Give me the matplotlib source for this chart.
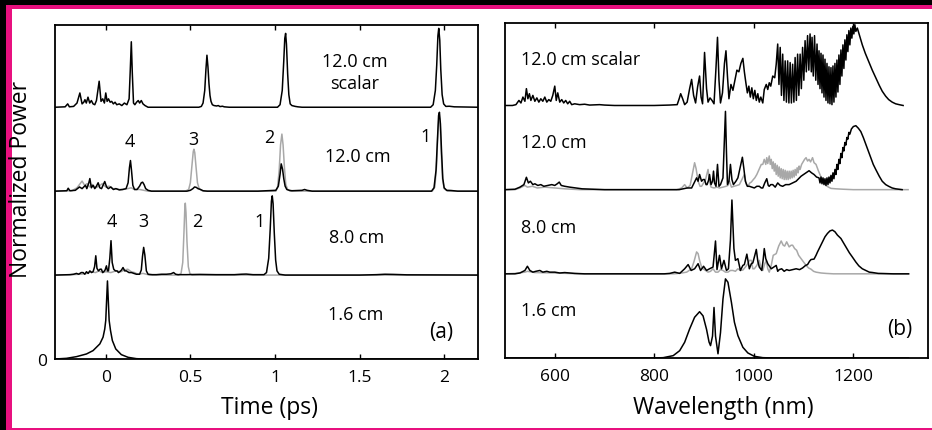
import matplotlib
matplotlib.use('Agg')
import matplotlib.pyplot as plt
from matplotlib.patches import Rectangle

plt.rcParams['font.family'] = ['Open Sans', 'DejaVu Sans']

# ------------------------------------------------------------------ data
time_ticks = [0, 0.5, 1, 1.5, 2]
time_tick_labels = ['0', '0.5', '1', '1.5', '2']
wl_ticks = [600, 800, 1000, 1200]
wl_tick_labels = ['600', '800', '1000', '1200']

# (a) temporal traces: (time [ps], normalized power)
time_scalar_12 = [
    (-0.30, 0.0), (-0.24, 0.005), (-0.225, 0.04), (-0.215, 0.005), (-0.19, 0.01), (-0.17, 0.05),
    (-0.153, 0.17), (-0.14, 0.04), (-0.13, 0.06), (-0.123, 0.09), (-0.115, 0.05), (-0.105, 0.12),
    (-0.095, 0.05), (-0.085, 0.08), (-0.075, 0.04), (-0.065, 0.03), (-0.055, 0.08), (-0.039, 0.31),
    (-0.028, 0.07), (-0.018, 0.10), (-0.008, 0.05), (0.0, 0.17), (0.008, 0.07), (0.016, 0.10),
    (0.026, 0.06), (0.035, 0.07), (0.045, 0.04), (0.055, 0.06), (0.065, 0.03), (0.08, 0.04),
    (0.095, 0.02), (0.11, 0.05), (0.125, 0.03), (0.138, 0.10), (0.145, 0.45), (0.151, 0.78),
    (0.157, 0.40), (0.164, 0.05), (0.172, 0.03), (0.182, 0.06), (0.192, 0.08), (0.20, 0.05),
    (0.21, 0.08), (0.22, 0.04), (0.232, 0.02), (0.25, 0.0), (0.55, 0.0), (0.565, 0.01),
    (0.575, 0.05), (0.585, 0.20), (0.592, 0.45), (0.598, 0.62), (0.604, 0.48), (0.61, 0.28),
    (0.616, 0.14), (0.622, 0.07), (0.63, 0.03), (0.64, 0.02), (0.655, 0.015), (0.665, 0.02),
    (0.675, 0.008), (0.69, 0.012), (0.70, 0.005), (0.73, 0.0), (1.015, 0.0), (1.03, 0.03),
    (1.043, 0.20), (1.052, 0.55), (1.058, 0.82), (1.063, 0.88), (1.068, 0.75), (1.075, 0.40),
    (1.082, 0.15), (1.09, 0.04), (1.10, 0.02), (1.11, 0.015), (1.12, 0.01), (1.135, 0.005),
    (1.16, 0.0), (1.92, 0.0), (1.935, 0.03), (1.948, 0.20), (1.956, 0.50), (1.963, 0.85),
    (1.968, 0.94), (1.974, 0.80), (1.98, 0.45), (1.988, 0.15), (1.997, 0.04), (2.01, 0.01),
    (2.03, 0.012), (2.06, 0.005), (2.2, 0.0)]

time_12_black = [
    (-0.30, 0.0), (-0.23, 0.005), (-0.222, 0.035), (-0.212, 0.005), (-0.18, 0.01), (-0.155, 0.05),
    (-0.14, 0.03), (-0.13, 0.05), (-0.12, 0.07), (-0.112, 0.03), (-0.10, 0.10), (-0.094, 0.15),
    (-0.085, 0.04), (-0.075, 0.07), (-0.065, 0.03), (-0.055, 0.06), (-0.045, 0.10), (-0.035, 0.04),
    (-0.025, 0.03), (-0.006, 0.115), (0.005, 0.05), (0.015, 0.03), (0.03, 0.05), (0.045, 0.02),
    (0.06, 0.03), (0.08, 0.015), (0.10, 0.02), (0.12, 0.03), (0.132, 0.10), (0.14, 0.28),
    (0.146, 0.365), (0.152, 0.25), (0.16, 0.07), (0.17, 0.02), (0.185, 0.02), (0.20, 0.06),
    (0.21, 0.10), (0.218, 0.107), (0.226, 0.08), (0.236, 0.03), (0.25, 0.01), (0.27, 0.0),
    (0.48, 0.0), (0.50, 0.01), (0.515, 0.03), (0.525, 0.05), (0.535, 0.045), (0.545, 0.03),
    (0.56, 0.02), (0.575, 0.005), (0.60, 0.0), (0.90, 0.0), (0.95, 0.005), (1.005, 0.01),
    (1.02, 0.06), (1.03, 0.20), (1.037, 0.325), (1.045, 0.26), (1.052, 0.15), (1.06, 0.06),
    (1.07, 0.02), (1.085, 0.01), (1.10, 0.005), (1.16, 0.01), (1.175, 0.02), (1.19, 0.01),
    (1.22, 0.0), (1.925, 0.0), (1.94, 0.04), (1.952, 0.25), (1.96, 0.60), (1.967, 0.90),
    (1.972, 0.94), (1.978, 0.80), (1.985, 0.45), (1.992, 0.15), (2.0, 0.04), (2.015, 0.01),
    (2.04, 0.008), (2.08, 0.0), (2.2, 0.0)]

time_12_gray = [
    (-0.30, 0.0), (-0.20, 0.005), (-0.17, 0.04), (-0.155, 0.08), (-0.14, 0.12), (-0.125, 0.07),
    (-0.11, 0.09), (-0.095, 0.05), (-0.08, 0.08), (-0.06, 0.04), (-0.04, 0.06), (-0.02, 0.09),
    (0.0, 0.05), (0.02, 0.06), (0.04, 0.03), (0.06, 0.03), (0.08, 0.02), (0.10, 0.02),
    (0.13, 0.03), (0.15, 0.04), (0.17, 0.02), (0.20, 0.02), (0.25, 0.0), (0.47, 0.0),
    (0.49, 0.02), (0.50, 0.10), (0.51, 0.32), (0.517, 0.47), (0.521, 0.50), (0.526, 0.46),
    (0.533, 0.30), (0.542, 0.10), (0.552, 0.03), (0.565, 0.01), (0.58, 0.0), (1.005, 0.0),
    (1.015, 0.04), (1.025, 0.25), (1.033, 0.55), (1.041, 0.68), (1.048, 0.55), (1.056, 0.28),
    (1.064, 0.08), (1.075, 0.02), (1.09, 0.0), (1.93, 0.0), (1.945, 0.05), (1.955, 0.30),
    (1.963, 0.70), (1.97, 0.90), (1.976, 0.82), (1.983, 0.45), (1.99, 0.15), (2.0, 0.03),
    (2.02, 0.0), (2.2, 0.0)]

time_8_black = [
    (-0.30, 0.0), (-0.212, 0.005), (-0.19, 0.01), (-0.173, 0.02), (-0.16, 0.01), (-0.145, 0.03),
    (-0.134, 0.03), (-0.124, 0.01), (-0.114, 0.04), (-0.104, 0.02), (-0.094, 0.05), (-0.084, 0.03),
    (-0.075, 0.04), (-0.066, 0.10), (-0.059, 0.23), (-0.052, 0.08), (-0.043, 0.05), (-0.034, 0.07),
    (-0.026, 0.07), (-0.018, 0.03), (-0.012, 0.04), (-0.004, 0.06), (0.004, 0.11), (0.010, 0.05),
    (0.016, 0.05), (0.024, 0.20), (0.031, 0.41), (0.038, 0.15), (0.047, 0.07), (0.057, 0.05),
    (0.067, 0.05), (0.075, 0.03), (0.083, 0.04), (0.093, 0.06), (0.102, 0.09), (0.112, 0.05),
    (0.122, 0.05), (0.137, 0.03), (0.152, 0.03), (0.166, 0.02), (0.181, 0.01), (0.20, 0.01),
    (0.21, 0.06), (0.217, 0.22), (0.224, 0.33), (0.231, 0.24), (0.24, 0.05), (0.25, 0.01),
    (0.275, 0.005), (0.299, 0.005), (0.33, 0.01), (0.358, 0.01), (0.385, 0.015), (0.401, 0.03),
    (0.413, 0.01), (0.427, 0.005), (0.476, 0.005), (0.555, 0.008), (0.65, 0.005), (0.76, 0.005),
    (0.80, 0.01), (0.83, 0.012), (0.87, 0.005), (0.935, 0.005), (0.95, 0.03), (0.963, 0.20),
    (0.972, 0.55), (0.979, 0.88), (0.984, 0.944), (0.989, 0.85), (0.996, 0.50), (1.004, 0.18),
    (1.012, 0.05), (1.025, 0.01), (1.06, 0.0), (1.50, 0.0), (1.60, 0.005), (1.65, 0.01),
    (1.70, 0.008), (1.78, 0.003), (2.2, 0.0)]

time_8_gray = [
    (-0.30, 0.0), (-0.20, 0.005), (-0.15, 0.01), (-0.11, 0.02), (-0.09, 0.04), (-0.06, 0.03),
    (-0.04, 0.05), (-0.02, 0.03), (0.0, 0.04), (0.03, 0.03), (0.06, 0.05), (0.09, 0.04),
    (0.11, 0.06), (0.13, 0.07), (0.15, 0.04), (0.17, 0.03), (0.19, 0.01), (0.22, 0.02),
    (0.26, 0.0), (0.43, 0.0), (0.445, 0.02), (0.455, 0.15), (0.462, 0.50), (0.467, 0.78),
    (0.47, 0.857), (0.474, 0.75), (0.48, 0.40), (0.488, 0.10), (0.497, 0.02), (0.51, 0.0),
    (2.2, 0.0)]

time_1p6 = [
    (-0.30, 0.0), (-0.232, 0.008), (-0.173, 0.028), (-0.114, 0.06), (-0.075, 0.10), (-0.035, 0.18),
    (-0.016, 0.26), (-0.006, 0.357), (0.0, 0.46), (0.004, 0.65), (0.010, 0.93), (0.016, 0.65),
    (0.020, 0.46), (0.028, 0.34), (0.039, 0.22), (0.059, 0.12), (0.092, 0.052), (0.132, 0.02),
    (0.181, 0.004), (0.22, 0.0), (2.2, 0.0)]

# (b) spectra: (wavelength [nm], normalized power)
spec_scalar_12 = [
    (500, 0.0), (515, 0.0), (522, 0.01), (528, 0.06), (532, 0.03), (536, 0.10), (540, 0.05),
    (543, 0.20), (546, 0.08), (549, 0.14), (552, 0.06), (556, 0.12), (560, 0.05), (564, 0.09),
    (568, 0.04), (572, 0.08), (576, 0.05), (580, 0.10), (584, 0.04), (588, 0.07), (592, 0.05),
    (596, 0.12), (600, 0.23), (603, 0.06), (606, 0.15), (610, 0.04), (614, 0.07), (618, 0.03),
    (622, 0.06), (626, 0.02), (630, 0.05), (634, 0.01), (640, 0.02), (650, 0.01), (660, 0.015),
    (670, 0.005), (690, 0.01), (700, 0.005), (720, 0.0), (800, 0.0), (830, 0.005), (846, 0.01),
    (850, 0.08), (853, 0.14), (857, 0.08), (861, 0.01), (866, 0.04), (871, 0.20), (875, 0.31),
    (879, 0.12), (883, 0.03), (887, 0.22), (891, 0.35), (894, 0.10), (897, 0.02), (901, 0.63),
    (905, 0.20), (908, 0.04), (912, 0.09), (916, 0.06), (920, 0.02), (924, 0.45), (927, 0.81),
    (930, 0.30), (933, 0.03), (937, 0.15), (941, 0.50), (944, 0.65), (947, 0.35), (950, 0.08),
    (954, 0.25), (958, 0.18), (962, 0.30), (966, 0.42), (970, 0.40), (974, 0.50), (978, 0.56),
    (981, 0.40), (984, 0.27), (987, 0.15), (990, 0.23), (993, 0.10), (996, 0.21), (999, 0.08),
    (1002, 0.18), (1005, 0.06), (1008, 0.14), (1011, 0.04), (1014, 0.10), (1018, 0.03),
    (1021, 0.19), (1025, 0.25), (1028, 0.19), (1031, 0.27), (1034, 0.23), (1038, 0.35),
    (1042, 0.33), (1045, 0.49), (1048, 0.73), (1050.5, 0.25), (1053, 0.69), (1055.5, 0.12),
    (1058, 0.61), (1060.5, 0.06), (1063, 0.53), (1065.5, 0.04), (1068, 0.53), (1070.5, 0.03),
    (1073, 0.51), (1075.5, 0.03), (1078, 0.49), (1080.5, 0.04), (1083, 0.57), (1085.5, 0.06),
    (1088, 0.61), (1090.5, 0.12), (1093, 0.61), (1095.5, 0.20), (1098, 0.69), (1100.5, 0.30),
    (1103, 0.77), (1105.5, 0.40), (1108, 0.83), (1110.5, 0.42), (1113, 0.85), (1115.5, 0.40),
    (1117, 0.81), (1119.5, 0.35), (1122, 0.83), (1124.5, 0.30), (1127, 0.73), (1129, 0.25),
    (1131, 0.65), (1133, 0.20), (1135, 0.62), (1137, 0.15), (1139, 0.60), (1141, 0.10),
    (1143, 0.55), (1145, 0.06), (1147, 0.50), (1149, 0.03), (1151, 0.46), (1153, 0.02),
    (1155, 0.45), (1157, 0.01), (1159, 0.47), (1161, 0.04), (1163, 0.50), (1165, 0.10),
    (1167, 0.54), (1169, 0.16), (1171, 0.60), (1173, 0.25), (1175, 0.66), (1177, 0.35),
    (1179, 0.72), (1181, 0.44), (1183, 0.78), (1185, 0.54), (1187, 0.84), (1189, 0.64),
    (1191, 0.89), (1193, 0.72), (1195, 0.92), (1197, 0.80), (1199, 0.94), (1201, 0.85),
    (1203, 0.96), (1205, 0.88), (1208, 0.92), (1211, 0.86), (1214, 0.80), (1218, 0.72),
    (1224, 0.62), (1231, 0.52), (1238, 0.42), (1245, 0.33), (1252, 0.24), (1258, 0.17),
    (1265, 0.11), (1271, 0.07), (1278, 0.04), (1285, 0.02), (1292, 0.01), (1300, 0.0)]

spec_12_black = [
    (500, 0.0), (520, 0.005), (530, 0.03), (538, 0.06), (543, 0.147), (547, 0.08), (551, 0.10),
    (556, 0.06), (560, 0.07), (566, 0.05), (572, 0.06), (578, 0.04), (586, 0.05), (594, 0.06),
    (600, 0.05), (605, 0.07), (609, 0.09), (613, 0.05), (620, 0.04), (630, 0.03), (643, 0.02),
    (655, 0.01), (675, 0.005), (700, 0.0), (850, 0.0), (858, 0.01), (866, 0.02), (875, 0.02),
    (880, 0.08), (885, 0.14), (888, 0.10), (891, 0.18), (895, 0.10), (898, 0.12), (901, 0.12),
    (904, 0.06), (906, 0.06), (909, 0.11), (911, 0.18), (914, 0.06), (917, 0.10), (919, 0.22),
    (921, 0.08), (924, 0.04), (927, 0.30), (930, 0.04), (933, 0.06), (938, 0.14), (941, 0.60),
    (943, 0.93), (945, 0.45), (947, 0.06), (950, 0.10), (953, 0.30), (956, 0.12), (959, 0.06),
    (964, 0.10), (968, 0.14), (972, 0.25), (977, 0.385), (980, 0.25), (983, 0.10), (987, 0.04),
    (991, 0.04), (996, 0.03), (1001, 0.02), (1006, 0.04), (1011, 0.04), (1015, 0.02),
    (1018, 0.02), (1022, 0.08), (1026, 0.13), (1029, 0.05), (1031, 0.04), (1034, 0.06),
    (1038, 0.06), (1043, 0.03), (1048, 0.08), (1053, 0.05), (1058, 0.04), (1064, 0.06),
    (1071, 0.06), (1078, 0.08), (1085, 0.10), (1090, 0.13), (1095, 0.16), (1100, 0.18),
    (1105, 0.20), (1111, 0.225), (1116, 0.20), (1121, 0.18), (1126, 0.15), (1131, 0.14),
    (1133, 0.08), (1135, 0.15), (1137, 0.07), (1139, 0.14), (1141, 0.06), (1143, 0.13),
    (1145, 0.05), (1147, 0.14), (1149, 0.06), (1151, 0.15), (1153, 0.08), (1155, 0.17),
    (1157, 0.10), (1159, 0.20), (1161, 0.13), (1163, 0.24), (1165, 0.18), (1167, 0.30),
    (1169, 0.24), (1171, 0.36), (1173, 0.31), (1175, 0.43), (1177, 0.38), (1179, 0.50),
    (1181, 0.46), (1183, 0.56), (1185, 0.53), (1187, 0.62), (1189, 0.60), (1191, 0.68),
    (1193, 0.66), (1196, 0.72), (1200, 0.75), (1205, 0.76), (1210, 0.73), (1215, 0.69),
    (1220, 0.62), (1225, 0.54), (1230, 0.46), (1235, 0.38), (1240, 0.30), (1245, 0.24),
    (1252, 0.16), (1258, 0.10), (1265, 0.06), (1271, 0.04), (1278, 0.02), (1285, 0.01),
    (1298, 0.0)]

spec_12_gray = [
    (500, 0.0), (520, 0.0), (530, 0.02), (540, 0.05), (545, 0.03), (555, 0.04), (565, 0.02),
    (580, 0.03), (600, 0.02), (620, 0.01), (650, 0.0), (845, 0.0), (855, 0.02), (861, 0.06),
    (866, 0.02), (872, 0.05), (877, 0.20), (881, 0.32), (884, 0.25), (888, 0.10), (892, 0.04),
    (895, 0.04), (899, 0.08), (903, 0.12), (908, 0.24), (911, 0.10), (914, 0.03), (920, 0.02),
    (926, 0.03), (931, 0.02), (938, 0.03), (944, 0.04), (948, 0.05), (951, 0.10), (955, 0.03),
    (960, 0.04), (966, 0.05), (971, 0.06), (976, 0.12), (981, 0.18), (985, 0.06), (988, 0.04),
    (992, 0.08), (995, 0.09), (999, 0.12), (1002, 0.14), (1006, 0.18), (1009, 0.22),
    (1012, 0.26), (1015, 0.30), (1018, 0.30), (1021, 0.36), (1024, 0.30), (1026, 0.38),
    (1028, 0.31), (1031, 0.40), (1033, 0.30), (1035, 0.36), (1037, 0.25), (1039, 0.33),
    (1041, 0.22), (1043, 0.31), (1045, 0.18), (1047, 0.29), (1049, 0.16), (1051, 0.27),
    (1053, 0.14), (1055, 0.25), (1057, 0.13), (1059, 0.24), (1061, 0.12), (1063, 0.23),
    (1065, 0.12), (1067, 0.22), (1069, 0.12), (1071, 0.22), (1073, 0.13), (1075, 0.22),
    (1077, 0.14), (1079, 0.23), (1081, 0.15), (1083, 0.24), (1085, 0.17), (1087, 0.26),
    (1089, 0.20), (1091, 0.28), (1093, 0.24), (1096, 0.30), (1099, 0.33), (1102, 0.36),
    (1105, 0.38), (1108, 0.34), (1111, 0.36), (1114, 0.33), (1118, 0.38), (1121, 0.32),
    (1125, 0.30), (1130, 0.22), (1135, 0.15), (1140, 0.09), (1145, 0.05), (1150, 0.03),
    (1155, 0.015), (1165, 0.01), (1180, 0.005), (1200, 0.0), (1310, 0.0)]

spec_8_black = [
    (500, 0.0), (520, 0.0), (530, 0.01), (540, 0.04), (545, 0.09), (550, 0.04), (556, 0.02),
    (562, 0.03), (570, 0.04), (576, 0.02), (584, 0.03), (590, 0.02), (600, 0.02), (610, 0.01),
    (620, 0.015), (640, 0.005), (660, 0.0), (820, 0.0), (831, 0.005), (841, 0.02), (851, 0.005),
    (861, 0.06), (868, 0.11), (874, 0.04), (881, 0.06), (888, 0.12), (893, 0.04), (899, 0.09),
    (905, 0.04), (911, 0.06), (918, 0.08), (920, 0.20), (923, 0.39), (926, 0.05), (931, 0.22),
    (935, 0.06), (940, 0.16), (945, 0.04), (949, 0.06), (953, 0.40), (956, 0.877), (960, 0.30),
    (963, 0.16), (968, 0.18), (973, 0.04), (978, 0.10), (981, 0.11), (986, 0.234), (991, 0.06),
    (995, 0.12), (998, 0.13), (1002, 0.22), (1005, 0.29), (1008, 0.15), (1011, 0.08),
    (1016, 0.04), (1019, 0.18), (1021, 0.30), (1024, 0.18), (1028, 0.12), (1035, 0.06),
    (1040, 0.08), (1045, 0.10), (1048, 0.03), (1051, 0.05), (1056, 0.06), (1061, 0.03),
    (1066, 0.05), (1071, 0.04), (1078, 0.05), (1085, 0.06), (1092, 0.05), (1098, 0.07),
    (1104, 0.10), (1108, 0.11), (1112, 0.15), (1115, 0.17), (1121, 0.175), (1125, 0.22),
    (1128, 0.26), (1133, 0.32), (1138, 0.38), (1143, 0.44), (1148, 0.48), (1153, 0.51),
    (1158, 0.52), (1163, 0.50), (1168, 0.46), (1175, 0.42), (1180, 0.37), (1185, 0.32),
    (1192, 0.25), (1198, 0.20), (1205, 0.14), (1211, 0.095), (1218, 0.06), (1225, 0.04),
    (1232, 0.02), (1238, 0.016), (1250, 0.005), (1258, 0.004), (1280, 0.0), (1311, 0.0)]

spec_8_gray = [
    (500, 0.0), (520, 0.005), (540, 0.02), (545, 0.03), (560, 0.015), (600, 0.01), (650, 0.0),
    (840, 0.0), (855, 0.01), (865, 0.02), (875, 0.06), (880, 0.15), (885, 0.26), (888, 0.24),
    (891, 0.16), (895, 0.08), (898, 0.06), (903, 0.04), (908, 0.02), (913, 0.03), (918, 0.06),
    (923, 0.02), (928, 0.02), (933, 0.05), (938, 0.04), (943, 0.02), (948, 0.02), (953, 0.04),
    (958, 0.04), (963, 0.03), (968, 0.06), (973, 0.04), (978, 0.045), (983, 0.08), (988, 0.12),
    (991, 0.16), (995, 0.16), (998, 0.06), (1001, 0.06), (1006, 0.10), (1011, 0.16),
    (1014, 0.08), (1018, 0.04), (1022, 0.12), (1025, 0.16), (1028, 0.06), (1031, 0.02),
    (1035, 0.10), (1039, 0.22), (1045, 0.24), (1050, 0.33), (1055, 0.39), (1059, 0.34),
    (1062, 0.33), (1066, 0.38), (1071, 0.32), (1075, 0.34), (1078, 0.34), (1082, 0.30),
    (1086, 0.28), (1090, 0.22), (1095, 0.18), (1100, 0.14), (1105, 0.10), (1110, 0.07),
    (1115, 0.055), (1120, 0.03), (1125, 0.02), (1135, 0.01), (1145, 0.005), (1160, 0.0),
    (1311, 0.0)]

spec_1p6 = [
    (500, 0.0), (800, 0.0), (818, 0.004), (838, 0.028), (851, 0.087), (861, 0.187), (871, 0.345),
    (881, 0.484), (891, 0.55), (898, 0.50), (905, 0.34), (910, 0.19), (913, 0.147), (917, 0.26),
    (920, 0.60), (923, 0.26), (928, 0.05), (933, 0.30), (938, 0.70), (943, 0.94), (948, 0.90),
    (955, 0.66), (961, 0.425), (968, 0.266), (978, 0.127), (988, 0.06), (1001, 0.02),
    (1018, 0.004), (1040, 0.0), (1311, 0.0)]

trace_names = ['1.6 cm', '8.0 cm', '12.0 cm', '12.0 cm scalar']

# ------------------------------------------------------------------ figure
W, H = 932, 431
fig = plt.figure(figsize=(W / 100, H / 100), dpi=100)
fig.patch.set_facecolor('black')
MAG = '#e8107f'
fig.patches.append(Rectangle((6 / W, 0), 1, (H - 6) / H, transform=fig.transFigure,
                             facecolor=MAG, edgecolor='none', zorder=-3))
fig.patches.append(Rectangle((12 / W, 2 / H), 1, (H - 12) / H, transform=fig.transFigure,
                             facecolor='white', edgecolor='none', zorder=-2))

GRAY = '#a8a8a8'
LW = 1.1
TICK_FS = 12.5
TXT_FS = 13
LAB_FS = 16.5

axL = fig.add_axes([55 / W, (H - 360) / H, 423 / W, 334 / H])
axR = fig.add_axes([505 / W, (H - 359) / H, 423 / W, 335 / H])


def draw(ax, pts, offset, color):
    xs = [p[0] for p in pts]
    ys = [p[1] + offset for p in pts]
    ax.plot(xs, ys, color=color, lw=LW, solid_joinstyle='round')


# left: temporal
draw(axL, time_1p6, 0, 'black')
draw(axL, time_8_gray, 1, GRAY)
draw(axL, time_8_black, 1, 'black')
draw(axL, time_12_gray, 2, GRAY)
draw(axL, time_12_black, 2, 'black')
draw(axL, time_scalar_12, 3, 'black')

# right: spectral
draw(axR, spec_1p6, 0, 'black')
draw(axR, spec_8_gray, 1, GRAY)
draw(axR, spec_8_black, 1, 'black')
draw(axR, spec_12_gray, 2, GRAY)
draw(axR, spec_12_black, 2, 'black')
draw(axR, spec_scalar_12, 3, 'black')

for ax in (axL, axR):
    ax.set_ylim(0, 3.98)
    for s in ax.spines.values():
        s.set_linewidth(1.3)
    ax.tick_params(axis='x', direction='in', top=True, bottom=True, length=3.4, width=1.0,
                   labelsize=TICK_FS, pad=7)

axL.set_xlim(-0.3, 2.2)
axL.set_xticks(time_ticks)
axL.set_xticklabels(time_tick_labels)
axL.set_yticks([0])
axL.set_yticklabels(['0'])
axL.tick_params(axis='y', length=0, labelsize=TICK_FS, pad=6)
axL.set_xlabel('Time (ps)', fontsize=LAB_FS)
axL.xaxis.set_label_coords(0.506, -0.108)
axL.set_ylabel('Normalized Power', fontsize=LAB_FS)
axL.yaxis.set_label_coords(-0.052, 0.54)

axR.set_xlim(500, 1350)
axR.set_xticks(wl_ticks)
axR.set_xticklabels(wl_tick_labels)
axR.set_yticks([])
axR.set_xlabel('Wavelength (nm)', fontsize=LAB_FS)
axR.xaxis.set_label_coords(0.515, -0.111)

# labels, panel (a)
axL.text(1.47, 3.42, '12.0 cm\nscalar', ha='center', va='center', fontsize=TXT_FS, linespacing=1.25)
axL.text(1.49, 2.42, trace_names[2], ha='center', va='center', fontsize=TXT_FS)
axL.text(1.48, 1.456, trace_names[1], ha='center', va='center', fontsize=TXT_FS)
axL.text(1.48, 0.536, trace_names[0], ha='center', va='center', fontsize=TXT_FS)
axL.text(1.98, 0.333, '(a)', ha='center', va='center', fontsize=15)
for lab, x, y in [('4', 0.142, 2.60), ('3', 0.52, 2.62), ('2', 0.968, 2.64), ('1', 1.887, 2.66)]:
    axL.text(x, y, lab, ha='center', va='center', fontsize=TXT_FS)
for lab, x, y in [('4', 0.034, 1.64), ('3', 0.224, 1.64), ('2', 0.539, 1.64), ('1', 0.909, 1.64)]:
    axL.text(x, y, lab, ha='center', va='center', fontsize=TXT_FS)

# labels, panel (b)
axR.text(532, 3.556, trace_names[3], ha='left', va='center', fontsize=TXT_FS)
axR.text(532, 2.564, trace_names[2], ha='left', va='center', fontsize=TXT_FS)
axR.text(532, 1.56, trace_names[1], ha='left', va='center', fontsize=TXT_FS)
axR.text(532, 0.571, trace_names[0], ha='left', va='center', fontsize=TXT_FS)
axR.text(1293, 0.345, '(b)', ha='center', va='center', fontsize=15)

fig.savefig('out.png', dpi=100, facecolor=fig.get_facecolor())
